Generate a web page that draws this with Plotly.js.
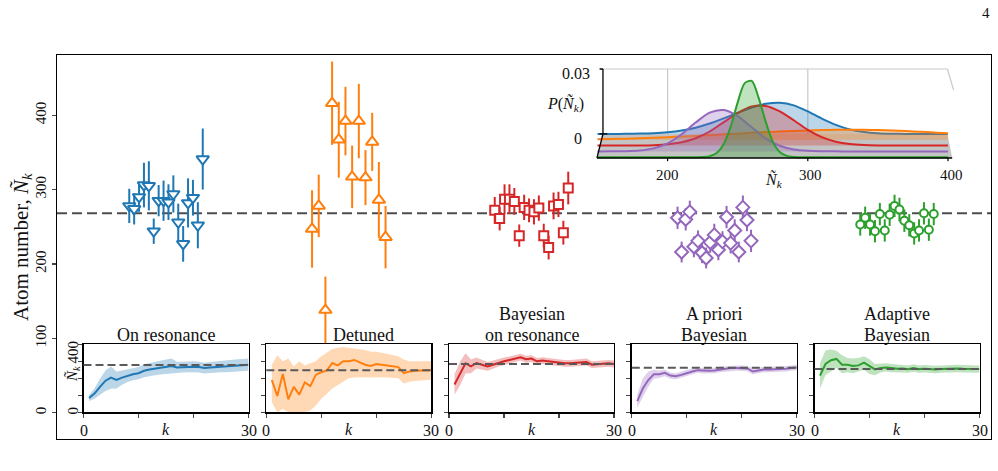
<!DOCTYPE html>
<html><head><meta charset="utf-8">
<script src="https://cdn.plot.ly/plotly-3.0.1.min.js"></script>
<style>html,body{margin:0;padding:0;background:#fff}#chart{width:998px;height:471px}</style>
</head><body><div id="chart"></div>
<script>
// ---------------- DATA ----------------
const methodNames = ['On resonance', 'Detuned', 'Bayesian on resonance', 'A priori Bayesian', 'Adaptive Bayesian'];
const titleLine1 = ['', '', 'Bayesian', 'A priori', 'Adaptive'];
const titleLine2 = ['On resonance', 'Detuned', 'on resonance', 'Bayesian', 'Bayesian'];
const colors = ['#1f77b4', '#ff7f0e', '#d62728', '#9467bd', '#2ca02c'];
const fills  = ['rgba(31,119,180,0.3)', 'rgba(255,127,14,0.3)', 'rgba(214,39,40,0.3)', 'rgba(148,103,189,0.3)', 'rgba(44,160,44,0.3)'];
const symbols = ['triangle-down', 'triangle-up', 'square', 'diamond', 'circle'];

// main panel: single-shot estimates and error bars
const onResN      = [278,274,290,306,305,244,285,285,283,294,256,227,282,289,252,341];
const onResErr    = [23,21,20,30,33,17,21,27,24,25,25,24,33,24,31,41];
const detunedN    = [247,278,138,416,367,392,317,392,316,364,286,236];
const detunedErr  = [52,42,45,56,51,46,42,50,37,39,51,42];
const bayesN      = [272,261,287,287,284,238,276,272,270,275,238,222,278,280,242,302];
const bayesErr    = [18,16,20,20,18,15,17,16,17,17,16,16,18,17,16,22];
const aprioriN    = [262,216,260,270,223,231,215,208,229,239,219,230,263,228,245,216,276,259,231];
const aprioriErr  = [15,14,15,15,14,14,14,14,14,15,14,14,15,14,15,14,16,15,15];
const adaptiveN   = [253,262,253,244,267,245,266,278,273,258,252,241,245,268,246,267];
const adaptiveErr = [15,15,15,15,15,15,15,15,16,15,15,15,15,15,15,15];
const mainRef = 268;

// bottom panels: running estimate vs k with band
const kVals = [1,2,3,4,5,6,7,8,9,10,11,12,13,14,15,16,17,18,19,20,21,22,23,24,25,26,27,28,29,30];
const kTickLabels = ['0', '30'];
const onResRun = [84,110,150,186,204,190,204,216,224,230,244,252,258,262,268,272,264,266,268,268,266,260,264,266,270,272,274,276,278,280];
const onResLo  = [67,80,103,126,139,140,162,178,188,194,206,214,218,222,226,228,230,234,236,236,234,228,232,232,236,236,238,240,242,244];
const onResHi  = [101,140,197,246,269,240,246,254,260,266,282,290,298,302,310,316,298,298,300,300,298,292,296,300,304,308,310,312,314,316];
const detunedRun = [190,96,226,76,150,104,176,154,220,236,246,290,276,300,300,308,294,280,272,284,280,276,272,266,230,240,244,244,244,248];
const detunedLo  = [60,0,20,0,0,0,0,10,40,80,110,140,160,180,200,204,206,206,204,206,206,204,202,200,170,180,184,188,190,192];
const detunedHi  = [280,336,300,316,270,300,276,290,300,330,350,372,380,384,380,376,370,366,356,356,350,344,340,330,310,300,300,300,300,300];
const bayesRun = [164,228,288,270,290,280,270,280,292,300,308,316,324,312,316,300,304,300,296,288,288,288,292,292,296,280,284,284,288,284];
const bayesLo  = [104,158,228,230,258,252,244,256,270,278,288,296,304,292,296,280,284,280,276,268,268,268,272,272,276,260,264,264,268,264];
const bayesHi  = [224,298,348,310,322,308,296,304,314,322,328,336,344,332,336,320,324,320,316,308,308,308,312,312,316,300,304,304,308,304];
const aprioriRun = [66,140,190,224,224,232,216,212,220,232,240,248,244,244,246,252,256,260,260,260,258,240,248,252,252,252,252,256,260,264];
const aprioriLo  = [28,90,150,198,202,212,198,194,202,214,224,232,228,228,230,236,240,244,244,244,242,224,232,236,236,236,236,240,244,248];
const aprioriHi  = [104,200,240,250,246,252,234,230,238,250,256,264,260,260,262,268,272,276,276,276,274,256,264,268,268,268,268,272,276,280];
const adaptiveRun = [216,284,306,314,280,280,272,276,292,272,252,260,264,260,256,258,254,260,254,256,252,252,254,256,256,258,256,256,256,254];
const adaptiveLo  = [140,220,240,260,230,236,230,240,250,226,218,234,240,236,234,236,232,238,232,234,230,230,232,234,234,236,234,234,234,232];
const adaptiveHi  = [290,364,370,362,336,320,316,320,330,312,284,288,288,284,280,280,276,282,276,278,274,274,276,278,278,280,278,278,278,276];
const subRef = [278, 248, 284, 262, 254];

// inset: posterior distributions P(N) (values in units of 1e-3)
const pdfGridN = [150,160,170,180,190,200,210,220,230,240,250,260,270,280,290,300,310,320,330,340,350,360,370,380,390,400];
const onResPdf    = [0.007,0.02,0.06,0.16,0.37,0.81,1.6,2.9,4.8,7.2,9.8,12.2,13.9,14.4,13.2,10.4,7.1,4.2,2.1,0.92,0.35,0.12,0.03,0.01,0,0];
const detunedPdf  = [0.3,0.4,0.5,0.7,0.9,1.2,1.5,1.8,2.2,2.5,2.8,3.2,3.5,3.8,4.1,4.3,4.5,4.6,4.6,4.6,4.5,4.3,4.0,3.7,3.4,3.0];
const bayesPdf    = [0,0,0.01,0.05,0.18,0.57,1.5,3.4,6.5,10.8,15.0,18.0,18.3,15.8,11.7,7.3,3.9,1.8,0.7,0.23,0.07,0.02,0,0,0,0];
const aprioriPdf  = [0,0.02,0.1,0.42,1.4,3.7,7.9,13.3,17.9,19.1,16.3,11.1,6.0,2.6,0.88,0.25,0.05,0.01,0,0,0,0,0,0,0,0];
const adaptiveGridN = [150,200,210,220,225,230,235,240,245,250,255,260,265,270,275,280,285,290,300,320,400];
const adaptivePdf   = [0,0,0,0,0.09,0.46,1.9,6.0,14.1,25.3,34.2,35.2,27.3,16.3,7.2,2.4,0.6,0.12,0,0,0];

// ---------------- LAYOUT HELPERS ----------------
const W = 998, H = 471;
const px = v => v / W, py = v => 1 - v / H;
const FONT = 'Liberation Serif, Times New Roman, serif';
const subLeft = [83.5, 266.3, 449, 631.8, 814.5];
const subW = 165;
const subTop = 344.3, subBot = 412.3;
const centers = subLeft.map(l => l + subW / 2);
const groupSpan = 73.5;

const mainSets = [[onResN, onResErr], [detunedN, detunedErr], [bayesN, bayesErr], [aprioriN, aprioriErr], [adaptiveN, adaptiveErr]];
const markerSizes = [11, 11, 9, 10, 8];
const runSets = [[onResRun, onResLo, onResHi], [detunedRun, detunedLo, detunedHi], [bayesRun, bayesLo, bayesHi], [aprioriRun, aprioriLo, aprioriHi], [adaptiveRun, adaptiveLo, adaptiveHi]];
const pdfSets = [[pdfGridN, onResPdf], [pdfGridN, detunedPdf], [pdfGridN, bayesPdf], [pdfGridN, aprioriPdf], [adaptiveGridN, adaptivePdf]];
const rowStep = 0.00268;

const traces = [];
// main panel
mainSets.forEach(([vals, errs], g) => {
  const n = vals.length, step = groupSpan / (n - 1);
  traces.push({
    type: 'scatter', mode: 'markers', xaxis: 'x', yaxis: 'y', name: methodNames[g],
    x: vals.map((_, i) => centers[g] + (i - (n - 1) / 2) * step), y: vals,
    error_y: {type: 'data', array: errs, visible: true, color: colors[g], thickness: 2, width: 0},
    marker: {symbol: symbols[g], size: markerSizes[g], color: '#ffffff', line: {color: colors[g], width: 2}},
    hoverinfo: 'skip'
  });
});
// bottom panels
runSets.forEach(([run, lo, hi], g) => {
  const xa = 'x' + (g + 2), ya = 'y' + (g + 2);
  traces.push({type: 'scatter', mode: 'lines', xaxis: xa, yaxis: ya, x: kVals, y: lo, line: {width: 0, color: fills[g]}, hoverinfo: 'skip'});
  traces.push({type: 'scatter', mode: 'lines', xaxis: xa, yaxis: ya, x: kVals, y: hi, line: {width: 0, color: fills[g]}, fill: 'tonexty', fillcolor: fills[g], hoverinfo: 'skip'});
  traces.push({type: 'scatter', mode: 'lines', xaxis: xa, yaxis: ya, x: kVals, y: run, line: {width: 2, color: colors[g]}, hoverinfo: 'skip'});
});
// inset waterfall
pdfSets.forEach(([grid, dens], g) => {
  const off = -g * rowStep;
  traces.push({type: 'scatter', mode: 'lines', xaxis: 'x7', yaxis: 'y7', x: [grid[0], grid[grid.length - 1]], y: [off, off], line: {width: 0, color: fills[g]}, hoverinfo: 'skip'});
  traces.push({type: 'scatter', mode: 'lines', xaxis: 'x7', yaxis: 'y7', x: grid, y: dens.map(d => d * 1e-3 + off),
    line: {width: 2, color: colors[g], shape: 'spline', smoothing: 0.8}, fill: 'tonexty', fillcolor: fills[g], hoverinfo: 'skip'});
});

const layout = {
  width: W, height: H, margin: {l: 0, r: 0, t: 0, b: 0},
  paper_bgcolor: '#ffffff', plot_bgcolor: 'rgba(0,0,0,0)', showlegend: false,
  font: {family: FONT, color: '#111', size: 15},
  xaxis: {domain: [px(57), px(991)], range: [57, 991], showline: true, mirror: true, linecolor: '#000', linewidth: 1.3,
          ticks: '', showticklabels: false, showgrid: false, zeroline: false, anchor: 'y'},
  yaxis: {domain: [py(439), py(55)], range: [-35.3, 480.8], tickvals: [0, 100, 200, 300, 400], ticks: 'outside', ticklen: 4, tickwidth: 1.2,
          tickangle: -90, tickfont: {size: 15, family: FONT}, showline: true, mirror: true, linecolor: '#000', linewidth: 1.3,
          showgrid: false, zeroline: false, anchor: 'x'},
  xaxis7: {domain: [px(594.7), px(955)], range: [148, 405], visible: false, anchor: 'y7'},
  yaxis7: {domain: [py(161.7), py(67.9)], range: [-0.0128, 0.0305], visible: false, anchor: 'x7'},
  shapes: [], annotations: []
};
const ann = (x, y, text, size, extra) => layout.annotations.push(Object.assign({xref: 'paper', yref: 'paper', x: px(x), y: py(y), text, showarrow: false,
  font: {size, family: FONT}, xanchor: 'center', yanchor: 'middle'}, extra || {}));

for (let g = 0; g < 5; g++) {
  const n = g + 2;
  layout['xaxis' + n] = {domain: [px(subLeft[g]), px(subLeft[g] + subW)], range: [0, 30], tickvals: [0, 10, 20, 30], showticklabels: false,
    ticks: 'outside', ticklen: 4, tickwidth: 1.2, showline: true, mirror: true, linecolor: '#000', linewidth: 1.4,
    showgrid: false, zeroline: false, anchor: 'y' + n};
  layout['yaxis' + n] = {domain: [py(subBot), py(subTop)], range: [0, 400], tickvals: [0, 100, 200, 300, 400], showticklabels: false,
    ticks: 'outside', ticklen: 4, tickwidth: 1.2, showline: true, mirror: true, linecolor: '#000', linewidth: 1.4,
    showgrid: false, zeroline: false, anchor: 'x' + n};
  layout.shapes.push({type: 'line', xref: 'x' + n + ' domain', yref: 'y' + n, x0: 0, x1: 1, y0: subRef[g], y1: subRef[g],
    line: {color: '#5a5a5a', width: 2, dash: '8px,4px'}});
  ann(centers[g] + (g === 1 ? 15 : 0), 335, titleLine2[g], 18);
  if (titleLine1[g]) ann(centers[g], 314, titleLine1[g], 18);
  ann(centers[g], 429, '<i>k</i>', 16);
  ann(subLeft[g], 430, kTickLabels[0], 16);
  ann(subLeft[g] + subW, 430, kTickLabels[1], 16);
}
// main reference line
layout.shapes.push({type: 'line', xref: 'x domain', yref: 'y', x0: 0, x1: 1, y0: mainRef, y1: mainRef, layer: 'below',
  line: {color: '#4d4d4d', width: 2, dash: '10px,5px'}});
// inset 3D-like frame
const ax = (o) => Object.assign({type: 'line', xref: 'x7', yref: 'y7'}, o);
layout.shapes.push({type: 'path', xref: 'x7', yref: 'y7', path: 'M149.6,-0.0111 L153.9,0 L399.6,0 L403,-0.0111 Z', fillcolor: '#c4c4c4', line: {width: 0}, layer: 'below'});
layout.shapes.push(ax({x0: 200, x1: 200, y0: 0, y1: 0.03, line: {color: '#c9c9c9', width: 1.2}, layer: 'below'}));
layout.shapes.push(ax({x0: 300, x1: 300, y0: 0, y1: 0.03, line: {color: '#c9c9c9', width: 1.2}, layer: 'below'}));
layout.shapes.push(ax({x0: 153.9, x1: 399.6, y0: 0.03, y1: 0.03, line: {color: '#c9c9c9', width: 1.2}, layer: 'below'}));
layout.shapes.push(ax({x0: 399.6, x1: 404, y0: 0.03, y1: 0.0203, line: {color: '#c9c9c9', width: 1.2}, layer: 'below'}));
layout.shapes.push(ax({x0: 153.9, x1: 153.9, y0: 0, y1: 0.03, line: {color: '#000', width: 1.3}}));
layout.shapes.push(ax({x0: 151.5, x1: 153.9, y0: 0.03, y1: 0.03, line: {color: '#000', width: 1.3}}));
layout.shapes.push(ax({x0: 151.5, x1: 157, y0: 0, y1: 0, line: {color: '#000', width: 1.3}}));
layout.shapes.push(ax({x0: 149.6, x1: 403, y0: -0.0111, y1: -0.0111, line: {color: '#000', width: 1.3}}));
layout.shapes.push(ax({x0: 149.6, x1: 153.9, y0: -0.0111, y1: 0, line: {color: '#000', width: 1.3}}));
[200, 300, 400].forEach(t => layout.shapes.push(ax({x0: t, x1: t, y0: -0.0111, y1: -0.0126, line: {color: '#000', width: 1.2}})));

// inset labels
ann(576, 74, '0.03', 16);
ann(578, 139, '0', 16);
ann(565, 104, '<i>P</i>(<i>Ñ</i><sub><i>k</i></sub>)', 16);
ann(667, 175, '200', 15);
ann(810, 175, '300', 15);
ann(951, 175, '400', 15);
ann(774, 180, '<i>Ñ</i><sub><i>k</i></sub>', 16);
// axis labels
ann(22, 247, 'Atom number, <i>Ñ</i><sub><i>k</i></sub>', 21, {textangle: -90});
ann(72.5, 352, '400', 15, {textangle: -90});
ann(72.5, 411, '0', 15, {textangle: -90});
ann(73, 374, '<i>Ñ</i><sub><i>k</i></sub>', 15, {textangle: -90});
ann(986, 13, '4', 15);

Plotly.newPlot('chart', traces, layout, {staticPlot: true, displayModeBar: false});
</script></body></html>
